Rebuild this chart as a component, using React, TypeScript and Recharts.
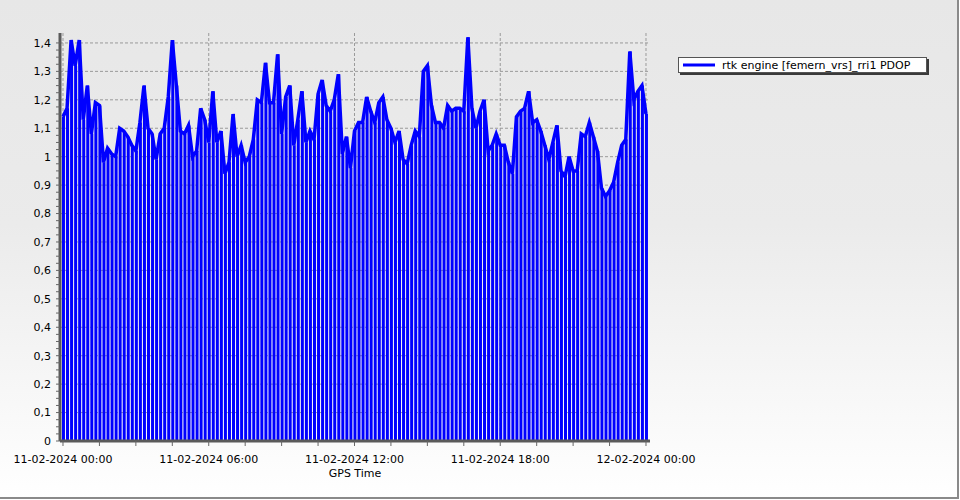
import React from "react";
import {
  ComposedChart,
  Bar,
  Line,
  XAxis,
  YAxis,
  CartesianGrid,
  Legend,
} from "recharts";

// PDOP values every 10 minutes from 11-02-2024 00:00 to 12-02-2024 00:00
const pdopValues: number[] = [
  1.14, 1.17, 1.41, 1.32, 1.41, 1.13, 1.25, 1.08, 1.19, 1.18,
  0.98, 1.03, 1.01, 1.0, 1.1, 1.09, 1.07, 1.04, 1.02, 1.12,
  1.25, 1.1, 1.08, 0.99, 1.08, 1.1, 1.21, 1.41, 1.25, 1.09,
  1.08, 1.11, 1.0, 1.02, 1.17, 1.13, 1.05, 1.23, 1.05, 1.09,
  0.94, 0.98, 1.15, 1.0, 1.04, 0.98, 1.0, 1.06, 1.2, 1.19,
  1.33, 1.19, 1.19, 1.36, 1.08, 1.21, 1.25, 1.04, 1.13, 1.23,
  1.05, 1.09, 1.06, 1.22, 1.27, 1.18, 1.16, 1.2, 1.29, 1.01,
  1.07, 0.96, 1.09, 1.12, 1.12, 1.21, 1.16, 1.12, 1.19, 1.21,
  1.13, 1.1, 1.05, 1.09, 0.99, 0.975, 1.04, 1.09, 1.07, 1.3,
  1.32, 1.18, 1.12, 1.12, 1.1, 1.18, 1.16, 1.17, 1.17, 1.16,
  1.42, 1.17, 1.1, 1.16, 1.2, 1.02, 1.04, 1.08, 1.04, 1.04,
  0.98, 0.94, 1.14, 1.16, 1.17, 1.23, 1.12, 1.13, 1.09, 1.04,
  0.99, 1.05, 1.11, 0.95, 0.93, 1.0, 0.95, 0.95, 1.08, 1.07,
  1.12, 1.07, 1.02, 0.89, 0.86, 0.88, 0.91, 0.98, 1.04, 1.06,
  1.37, 1.2, 1.23, 1.25, 1.15,
];

// hours since 11-02-2024 00:00
const timeHours: number[] = pdopValues.map((_, i) => i / 6);

const xMajorTicks: number[] = [0, 6, 12, 18, 24];
const xTickLabels: string[] = [
  "11-02-2024 00:00",
  "11-02-2024 06:00",
  "11-02-2024 12:00",
  "11-02-2024 18:00",
  "12-02-2024 00:00",
];
const xAllTicks: number[] = Array.from({ length: 17 }, (_, i) => i * 1.5);

const yMajorTicks: number[] = [0, 0.1, 0.2, 0.3, 0.4, 0.5, 0.6, 0.7, 0.8, 0.9, 1, 1.1, 1.2, 1.3, 1.4];
const yTickLabels: string[] = ["0", "0,1", "0,2", "0,3", "0,4", "0,5", "0,6", "0,7", "0,8", "0,9", "1", "1,1", "1,2", "1,3", "1,4"];
const yAllTicks: number[] = Array.from({ length: 57 }, (_, i) => Math.round(i * 25) / 1000);

const seriesName = "rtk engine [femern_vrs]_rri1 PDOP";

const data = timeHours.map((t, i) => ({ t, pdop: pdopValues[i] }));

const FONT = "'DejaVu Sans', Verdana, sans-serif";
const BLUE = "#0000FF";

const fmtX = (v: number) => {
  const idx = xMajorTicks.findIndex((m) => Math.abs(m - v) < 1e-6);
  return idx >= 0 ? xTickLabels[idx] : "";
};
const fmtY = (v: number) => {
  const idx = yMajorTicks.findIndex((m) => Math.abs(m - v) < 1e-6);
  return idx >= 0 ? yTickLabels[idx] : "";
};

const LegendBox = () => (
  <div
    style={{
      boxSizing: "border-box",
      width: 249,
      height: 16,
      background: "#fff",
      border: "1px solid #555",
      boxShadow: "2px 2px 0 #3a3a3a",
      display: "flex",
      alignItems: "center",
      fontFamily: FONT,
      fontSize: 11,
      color: "#000",
      whiteSpace: "nowrap",
    }}
  >
    <svg width={38} height={14} style={{ flex: "none" }}>
      <line x1={4} y1={7} x2={36} y2={7} stroke={BLUE} strokeWidth={3} />
    </svg>
    <span style={{ marginLeft: 5 }}>{seriesName}</span>
  </div>
);

export default function App() {
  return (
    <div
      style={{
        position: "fixed",
        left: 0,
        top: 0,
        width: 960,
        height: 500,
        background: "linear-gradient(to bottom, #e7e7e7 0%, #ebebeb 45%, #ffffff 100%)",
        boxShadow: "inset -1px -1px 0 #ffffff, inset -3px -3px 0 #8a8a8a",
      }}
    >
      <ComposedChart
        width={960}
        height={500}
        data={data}
        margin={{ top: 33, right: 310, bottom: 0, left: 0 }}
        style={{ fontFamily: FONT }}
      >
        <CartesianGrid
          stroke="#9a9a9a"
          strokeDasharray="3 2"
          horizontalValues={yMajorTicks.slice(1)}
          verticalValues={xMajorTicks}
        />
        <XAxis
          dataKey="t"
          type="number"
          domain={[-0.1235, 24.165]}
          allowDataOverflow
          ticks={xAllTicks}
          interval={0}
          tickFormatter={fmtX}
          tick={{ fill: "#000", fontSize: 11, fontFamily: FONT }}
          tickSize={5}
          tickMargin={9}
          tickLine={{ stroke: "#666" }}
          axisLine={{ stroke: "#5a5a5a", strokeWidth: 3 }}
          height={59}
          label={{
            value: "GPS Time",
            position: "insideBottom",
            offset: 23,
            fill: "#000",
            fontSize: 11,
            fontFamily: FONT,
          }}
        />
        <YAxis
          type="number"
          domain={[0, 1.435]}
          allowDataOverflow
          ticks={yAllTicks}
          interval={0}
          tickFormatter={fmtY}
          tick={{ fill: "#000", fontSize: 11, fontFamily: FONT }}
          tickSize={4}
          tickMargin={5}
          tickLine={{ stroke: "#666" }}
          axisLine={{ stroke: "#5a5a5a", strokeWidth: 3 }}
          width={60}
        />
        <Bar
          dataKey="pdop"
          name={seriesName}
          fill={BLUE}
          barSize={3}
          isAnimationActive={false}
        />
        <Line
          dataKey="pdop"
          name={seriesName}
          type="linear"
          stroke={BLUE}
          strokeWidth={3.5}
          dot={false}
          activeDot={false}
          isAnimationActive={false}
          legendType="line"
        />
        <Legend
          layout="horizontal"
          align="center"
          verticalAlign="middle"
          content={() => <LegendBox />}
          wrapperStyle={{ left: 678, top: 57, width: 260, height: 20 }}
        />
      </ComposedChart>
    </div>
  );
}
